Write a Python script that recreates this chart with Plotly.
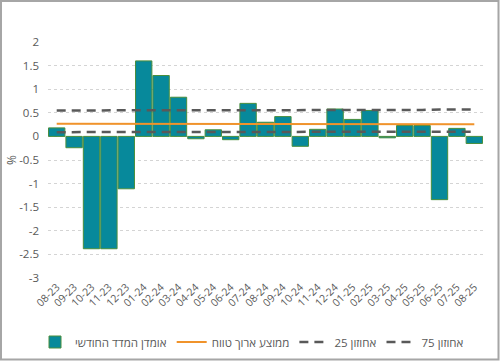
import plotly.graph_objects as go

months = ["08-23", "09-23", "10-23", "11-23", "12-23", "01-24", "02-24", "03-24", "04-24",
          "05-24", "06-24", "07-24", "08-24", "09-24", "10-24", "11-24", "12-24", "01-25",
          "02-25", "03-25", "04-25", "05-25", "06-25", "07-25", "08-25"]
monthly_estimate = [0.18, -0.24, -2.38, -2.38, -1.11, 1.60, 1.29, 0.83, -0.05,
                    0.14, -0.07, 0.70, 0.30, 0.42, -0.21, 0.15, 0.58, 0.36,
                    0.55, -0.03, 0.23, 0.23, -1.34, 0.17, -0.15]
long_term_avg = [0.27] * 20 + [0.27, 0.265, 0.26, 0.26, 0.26]
pct25 = [0.09] * 20 + [0.09, 0.095, 0.10, 0.10, 0.10]
pct75 = [0.55] * 20 + [0.55, 0.56, 0.57, 0.57, 0.57]
y_ticks = [2, 1.5, 1, 0.5, 0, -0.5, -1, -1.5, -2, -2.5, -3]

W, H = 500, 361
L, R, T, B = 48, 17, 42, 83
pw, ph = W - L - R, H - T - B

def px_x(p):
    return (p - L) / pw

def px_y(p):
    return (H - B - p) / ph

txt = "#595959"
font = "Open Sans, Noto Sans, sans-serif"

fig = go.Figure()
fig.add_bar(x=months, y=monthly_estimate, name="אומדן המדד החודשי",
            marker=dict(color="#07899B", line=dict(color="#4A8E3C", width=1)))
fig.add_scatter(x=months, y=long_term_avg, mode="lines", name="ממוצע ארוך טווח",
                line=dict(color="#F0932B", width=2))
fig.add_scatter(x=months, y=pct25, mode="lines", name="אחוזון 25",
                line=dict(color="#595959", width=2.5, dash="9px,6px"))
fig.add_scatter(x=months, y=pct75, mode="lines", name="אחוזון 75",
                line=dict(color="#595959", width=2.5, dash="9px,6px"))

fig.update_layout(
    width=W, height=H,
    margin=dict(l=L, r=R, t=T, b=B, autoexpand=False),
    paper_bgcolor="white", plot_bgcolor="white",
    bargap=0.06,
    font=dict(family=font, size=11, color=txt),
    showlegend=True,
    legend=dict(orientation="h", x=px_x(252), xanchor="center", y=px_y(342), yanchor="middle",
                font=dict(size=11.5, color=txt), itemwidth=30, tracegroupgap=0),
    xaxis=dict(type="category", range=[-0.5, len(months) - 0.5], tickangle=-45,
               showgrid=False, showline=False, ticks="", tickfont=dict(size=10.5, color=txt)),
    yaxis=dict(range=[-3, 2], tickvals=y_ticks, ticktext=[str(v) for v in y_ticks],
               showgrid=True, gridcolor="#d4d4d4", griddash="3px,3px", gridwidth=1,
               zeroline=False, showline=False, ticks="", ticklabelstandoff=8,
               tickfont=dict(size=11.5, color=txt)),
    shapes=[dict(type="rect", xref="paper", yref="paper",
                 x0=px_x(1), x1=px_x(498.5), y0=px_y(359.5), y1=px_y(1),
                 line=dict(color="#a6a6a6", width=2), layer="above")],
    annotations=[dict(text="%", xref="paper", yref="paper", x=px_x(11), y=px_y(160),
                      xanchor="center", yanchor="middle",
                      showarrow=False, textangle=-90, font=dict(size=12, color=txt))],
)

fig.write_html("out.html", config={"displayModeBar": False},
               post_script="document.body.style.margin='0';document.body.style.overflow='hidden';")
